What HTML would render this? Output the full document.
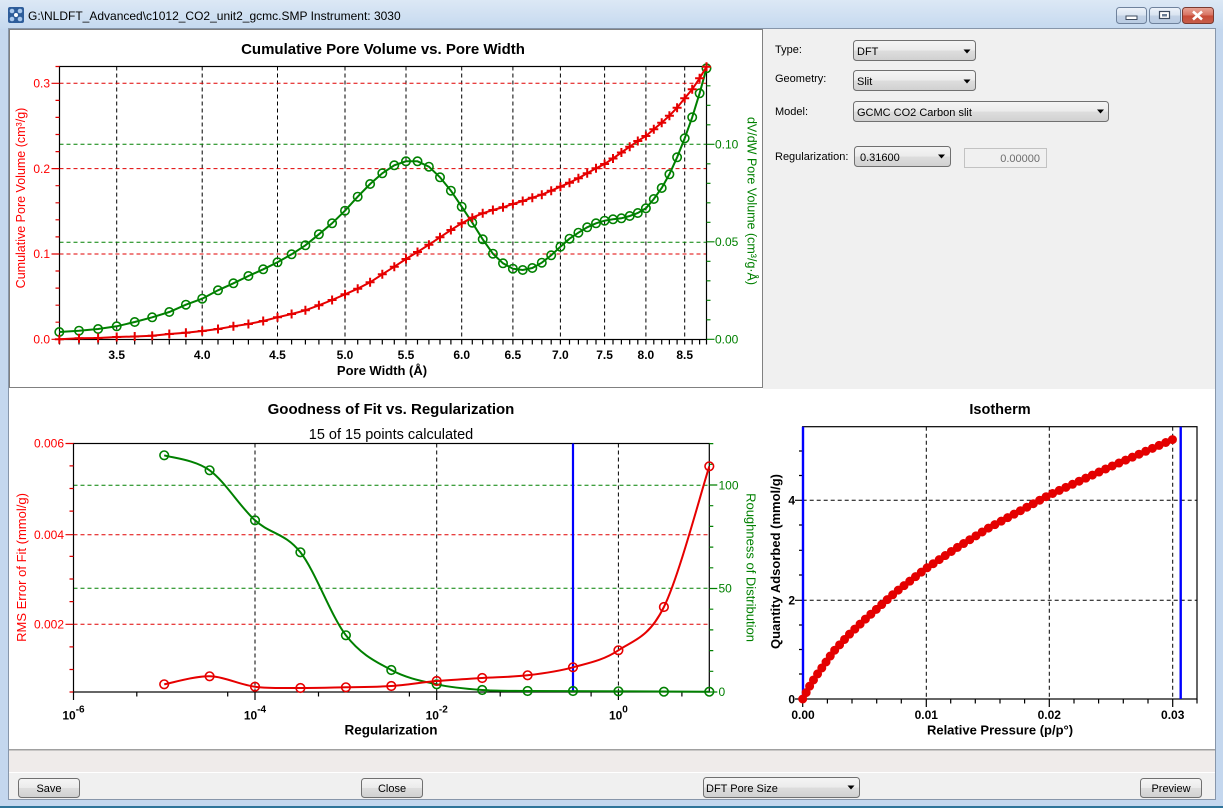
<!DOCTYPE html>
<html><head><meta charset="utf-8">
<style>
html,body{margin:0;padding:0;background:#fff;}
svg{display:block;}
text{font-family:"Liberation Sans",Arial,sans-serif;}
</style></head><body>
<svg width="1223" height="808" viewBox="0 0 1223 808" xmlns="http://www.w3.org/2000/svg">
<defs>
 <linearGradient id="tb" x1="0" y1="0" x2="0" y2="1"><stop offset="0" stop-color="#dce8f5"/><stop offset="1" stop-color="#c5d9ef"/></linearGradient>
 <linearGradient id="btn" x1="0" y1="0" x2="0" y2="1"><stop offset="0" stop-color="#f5f5f5"/><stop offset="0.5" stop-color="#ebebeb"/><stop offset="0.5" stop-color="#dedede"/><stop offset="1" stop-color="#d0d0d0"/></linearGradient>
 <linearGradient id="wb" x1="0" y1="0" x2="0" y2="1"><stop offset="0" stop-color="#eef3fa"/><stop offset="0.5" stop-color="#d8e3f0"/><stop offset="0.5" stop-color="#c3d2e5"/><stop offset="1" stop-color="#b9cbe2"/></linearGradient>
 <linearGradient id="wc" x1="0" y1="0" x2="0" y2="1"><stop offset="0" stop-color="#e8a597"/><stop offset="0.5" stop-color="#d7705f"/><stop offset="0.5" stop-color="#c84a36"/><stop offset="1" stop-color="#c65f4c"/></linearGradient>
 <marker id="mp" markerWidth="12" markerHeight="12" refX="6" refY="6" markerUnits="userSpaceOnUse" overflow="visible"><path d="M1.5 6H10.5M6 1.5V10.5" stroke="#e60000" stroke-width="2" fill="none"/></marker>
 <marker id="mc" markerWidth="12" markerHeight="12" refX="6" refY="6" markerUnits="userSpaceOnUse" overflow="visible"><circle cx="6" cy="6" r="4.2" fill="none" stroke="#008000" stroke-width="1.6"/></marker>
</defs>

<!-- window frame -->
<rect x="0" y="0" width="1223" height="808" fill="#c4d7ee"/>
<rect x="0" y="0" width="1223" height="29" fill="url(#tb)"/>
<rect x="0" y="806" width="1223" height="2" fill="#2f7499"/>
<!-- icon -->
<g transform="translate(8,7)">
 <rect x="0" y="0" width="16" height="16" rx="2" fill="#2e5d9a"/>
 <circle cx="4" cy="4" r="2.3" fill="#a9c8ec"/><circle cx="12" cy="4" r="2.3" fill="#a9c8ec"/>
 <circle cx="4" cy="12" r="2.3" fill="#a9c8ec"/><circle cx="12" cy="12" r="2.3" fill="#a9c8ec"/>
 <circle cx="8" cy="8" r="2" fill="#ffffff"/>
</g>
<text x="28" y="20" font-size="12" fill="#000">G:\NLDFT_Advanced\c1012_CO2_unit2_gcmc.SMP Instrument: 3030</text>
<!-- title buttons -->
<rect x="1116.5" y="7.5" width="30" height="16" rx="3" fill="url(#wb)" stroke="#6f829c"/>
<rect x="1126" y="16" width="11" height="3.5" fill="#fff" stroke="#3c4a5e" stroke-width="1"/>
<rect x="1149.5" y="7.5" width="31" height="16" rx="3" fill="url(#wb)" stroke="#6f829c"/>
<rect x="1159.5" y="11.5" width="10" height="7" fill="#fff" stroke="#3c4a5e" stroke-width="1.2"/>
<rect x="1162" y="14" width="5" height="2.5" fill="#6a7c94"/>
<rect x="1182.5" y="7.5" width="31" height="16" rx="3" fill="url(#wc)" stroke="#7a3a30"/>
<path d="M1193 11.5L1202 19.5M1202 11.5L1193 19.5" stroke="#fff" stroke-width="2.6"/>

<!-- content -->
<rect x="8.5" y="28.5" width="1207" height="771" fill="#f0f0f0" stroke="#8796aa"/>
<rect x="9" y="29" width="1206" height="720" fill="#fff"/>
<rect x="763" y="29" width="452" height="360" fill="#f0f0f0"/>
<rect x="9.5" y="29.5" width="753" height="358" fill="none" stroke="#000" stroke-dasharray="1,1"/>
<rect x="9" y="749" width="1206" height="1.5" fill="#a0a0a0"/>
<rect x="9" y="750.5" width="1206" height="21.5" fill="#efebea"/>
<rect x="9" y="772" width="1206" height="1" fill="#fff"/>
<rect x="9" y="773" width="1206" height="26" fill="#f0f0f0"/>

<!-- ===== TOP CHART ===== -->
<text x="383" y="54" font-size="15" font-weight="bold" text-anchor="middle">Cumulative Pore Volume vs. Pore Width</text>
<!-- grid -->
<g stroke="#000" stroke-width="1" stroke-dasharray="4,3" fill="none">
 <path d="M116.7 66.5V339.5M202.2 66.5V339.5M277.5 66.5V339.5M345 66.5V339.5M406 66.5V339.5M461.7 66.5V339.5M512.9 66.5V339.5M560.4 66.5V339.5M604.6 66.5V339.5M645.9 66.5V339.5M684.7 66.5V339.5"/>
</g>
<g stroke="#e00000" stroke-width="1" stroke-dasharray="4,3" fill="none">
 <path d="M59.5 254H706.5M59.5 168.6H706.5M59.5 83.3H706.5"/>
</g>
<g stroke="#008000" stroke-width="1" stroke-dasharray="4,3" fill="none">
 <path d="M59.5 242.3H706.5M59.5 144.3H706.5"/>
</g>
<!-- axes -->
<rect x="59.5" y="66.5" width="647" height="273" fill="none" stroke="#000" stroke-width="1.2"/>
<path stroke="#e00000" stroke-width="1.2" d="M51.5 339.3H59.5M51.5 254H59.5M51.5 168.6H59.5M51.5 83.3H59.5M55.5 322.2H59.5M55.5 305.2H59.5M55.5 288.1H59.5M55.5 271H59.5M55.5 236.9H59.5M55.5 219.8H59.5M55.5 202.8H59.5M55.5 185.7H59.5M55.5 151.6H59.5M55.5 134.5H59.5M55.5 117.4H59.5M55.5 100.4H59.5M55.5 66.5H59.5"/>
<path stroke="#008000" stroke-width="1.2" d="M706.5 339.3H714.5M706.5 241.8H714.5M706.5 144.3H714.5M706.5 319.8H710.5M706.5 300.3H710.5M706.5 280.8H710.5M706.5 261.3H710.5M706.5 222.3H710.5M706.5 202.8H710.5M706.5 183.3H710.5M706.5 163.8H710.5M706.5 124.8H710.5M706.5 105.3H710.5M706.5 85.8H710.5M706.5 66.5H710.5"/>
<path stroke="#000" stroke-width="1.2" d="M59.5 339.5v5M79 339.5v5M98.1 339.5v5M116.7 339.5v5M134.7 339.5v5M152.2 339.5v5M169.3 339.5v5M185.9 339.5v5M202.2 339.5v5M218 339.5v5M233.4 339.5v5M248.4 339.5v5M263.2 339.5v5M277.5 339.5v5M291.6 339.5v5M305.4 339.5v5M318.9 339.5v5M332.1 339.5v5M345 339.5v5M357.7 339.5v5M370.1 339.5v5M382.3 339.5v5M394.3 339.5v5M406 339.5v5M417.5 339.5v5M428.9 339.5v5M440 339.5v5M450.9 339.5v5M461.7 339.5v5M472.3 339.5v5M482.7 339.5v5M492.9 339.5v5M503 339.5v5M512.9 339.5v5M522.7 339.5v5M532.3 339.5v5M541.8 339.5v5M551.2 339.5v5M560.4 339.5v5M569.5 339.5v5M578.4 339.5v5M587.2 339.5v5M596 339.5v5M604.6 339.5v5M613 339.5v5M621.4 339.5v5M629.7 339.5v5M637.8 339.5v5M645.9 339.5v5M653.8 339.5v5M661.7 339.5v5M669.4 339.5v5M677.1 339.5v5M684.7 339.5v5M692.2 339.5v5M699.6 339.5v5M706.5 339.5v5"/>
<!-- tick labels -->
<g font-size="12" fill="#ff0000" text-anchor="end">
 <text x="50" y="343.5">0.0</text><text x="50" y="258.2">0.1</text><text x="50" y="172.8">0.2</text><text x="50" y="87.5">0.3</text>
</g>
<g font-size="12" fill="#008000">
 <text x="715" y="343.5">0.00</text><text x="715" y="246">0.05</text><text x="715" y="148.5">0.10</text>
</g>
<g font-size="12" font-weight="bold" text-anchor="middle" fill="#000">
 <text x="116.7" y="359">3.5</text><text x="202.2" y="359">4.0</text><text x="277.5" y="359">4.5</text><text x="345" y="359">5.0</text><text x="406" y="359">5.5</text><text x="461.7" y="359">6.0</text><text x="512.9" y="359">6.5</text><text x="560.4" y="359">7.0</text><text x="604.6" y="359">7.5</text><text x="645.9" y="359">8.0</text><text x="684.7" y="359">8.5</text>
</g>
<text x="382" y="375" font-size="13" font-weight="bold" text-anchor="middle">Pore Width (Å)</text>
<text transform="translate(21,198) rotate(-90)" font-size="12.5" fill="#ff0000" text-anchor="middle" dominant-baseline="central">Cumulative Pore Volume (cm³/g)</text>
<text transform="translate(751.5,201) rotate(90)" font-size="12.5" fill="#008000" text-anchor="middle" dominant-baseline="central">dV/dW Pore Volume (cm³/g·Å)</text>
<!-- series -->
<polyline fill="none" stroke="#008000" stroke-width="2" marker-start="url(#mc)" marker-mid="url(#mc)" marker-end="url(#mc)" points="59.3,332 79,330.7 98.1,329 116.7,326.3 134.7,322 152.2,317.3 169.3,312 185.9,304.7 202.2,298.7 218,290.3 233.4,283.3 248.4,276 263.2,269.3 277.5,262.3 291.6,254.3 305.4,245.3 318.9,234.3 332.1,223.3 345,210.7 357.7,196.7 370.1,184 382.3,173.3 394.3,165.3 406,161.3 417.5,161.3 428.9,166.7 440,177.3 450.9,190.7 461.7,206.7 472.3,222.7 482.7,239.3 492.9,253.7 503,263.3 512.9,268.7 522.7,270 532.3,268 541.8,262.7 551.2,255.3 560.4,246.7 569.5,238.7 578.4,232.7 587.2,227.3 596,223.3 604.6,220.7 613,219.3 621.4,218.3 629.7,216 637.8,213 645.9,208.3 653.8,199 661.7,188 669.4,174.3 677.1,157.3 684.7,138.3 692.2,117.3 699.6,93.3 706.5,68.3"/>
<polyline fill="none" stroke="#e60000" stroke-width="2" marker-start="url(#mp)" marker-mid="url(#mp)" marker-end="url(#mp)" points="59.3,339.3 79,338.3 98.1,338 116.7,337 134.7,336.5 152.2,335.7 169.3,334 185.9,332.7 202.2,331 218,329 233.4,326.3 248.4,324 263.2,321 277.5,317.3 291.6,314 305.4,310.3 318.9,305.3 332.1,300 345,294.3 357.7,288.7 370.1,282.3 382.3,274.3 394.3,266.7 406,259 417.5,252 428.9,244.7 440,237.3 450.9,230 461.7,223.3 472.3,217.7 482.7,213.3 492.9,210 503,207.3 512.9,204 522.7,201 532.3,197.7 541.8,194.7 551.2,190.7 560.4,186.7 569.5,182.7 578.4,178.3 587.2,173.3 596,168.3 604.6,164 613,158.5 621.4,152.5 629.7,146.7 637.8,141 645.9,136 653.8,129.3 661.7,122.7 669.4,115.7 677.1,107.7 684.7,98.3 692.2,89.3 699.6,78.3 706.5,66.7"/>

<!-- ===== RIGHT PANEL ===== -->
<g font-size="11" fill="#000">
 <text x="775" y="53">Type:</text>
 <text x="775" y="82">Geometry:</text>
 <text x="775" y="115">Model:</text>
 <text x="775" y="160">Regularization:</text>
</g>
<rect x="853.5" y="40.5" width="122" height="20" rx="3" fill="url(#btn)" stroke="#707070"/>
<text x="857" y="55" font-size="11">DFT</text>
<path d="M963.5 49.5h7l-3.5 4z" fill="#000"/>
<rect x="853.5" y="70.5" width="122" height="20" rx="3" fill="url(#btn)" stroke="#707070"/>
<text x="857" y="85" font-size="11">Slit</text>
<path d="M963.5 79.5h7l-3.5 4z" fill="#000"/>
<rect x="853.5" y="101.5" width="255" height="20" rx="3" fill="url(#btn)" stroke="#707070"/>
<text x="857" y="116" font-size="11">GCMC CO2 Carbon slit</text>
<path d="M1097 109.5h7l-3.5 4z" fill="#000"/>
<rect x="854.5" y="146.5" width="96" height="20" rx="3" fill="url(#btn)" stroke="#707070"/>
<text x="860" y="161" font-size="11">0.31600</text>
<path d="M938 154.5h7l-3.5 4z" fill="#000"/>
<rect x="964.5" y="148.5" width="82" height="19" fill="#f0f0f0" stroke="#c2c2c2"/>
<text x="1040" y="162" font-size="11" fill="#6d6d6d" text-anchor="end">0.00000</text>

<!-- ===== GOODNESS OF FIT CHART ===== -->
<text x="391" y="414" font-size="15" font-weight="bold" text-anchor="middle">Goodness of Fit vs. Regularization</text>
<text x="391" y="439" font-size="14.5" text-anchor="middle">15 of 15 points calculated</text>
<g stroke="#000" stroke-width="1" stroke-dasharray="4,3" fill="none">
 <path d="M255 443.5V692M436.7 443.5V692M618.4 443.5V692"/>
</g>
<g stroke="#e00000" stroke-width="1" stroke-dasharray="4,3"><path d="M73.5 534.7H709.3M73.5 624.3H709.3"/></g>
<g stroke="#008000" stroke-width="1" stroke-dasharray="4,3"><path d="M73.5 485.3H709.3M73.5 588.3H709.3"/></g>
<rect x="73.5" y="443.5" width="635.8" height="248.5" fill="none" stroke="#000" stroke-width="1.2"/>
<path stroke="#e00000" stroke-width="1.2" d="M65.5 443.5H73.5M65.5 534.7H73.5M65.5 624.3H73.5M69.5 465.9H73.5M69.5 488.5H73.5M69.5 511.1H73.5M69.5 556.4H73.5M69.5 579H73.5M69.5 601.6H73.5M69.5 646.9H73.5M69.5 669.5H73.5M69.5 692H73.5"/>
<path stroke="#008000" stroke-width="1.2" d="M709.3 692H717.3M709.3 588.5H717.3M709.3 485H717.3M709.3 671.3H713.3M709.3 650.6H713.3M709.3 629.9H713.3M709.3 609.2H713.3M709.3 567.8H713.3M709.3 547.1H713.3M709.3 526.4H713.3M709.3 505.7H713.3M709.3 464.3H713.3M709.3 443.6H713.3"/>
<path stroke="#000" stroke-width="1.2" d="M73.5 692v8M255 692v8M436.7 692v8M618.4 692v8M136.8 692v4.5M227.7 692v4.5M318.5 692v4.5M409.4 692v4.5M500.2 692v4.5M591.1 692v4.5M681.9 692v4.5"/>
<g font-size="12" fill="#ff0000" text-anchor="end">
 <text x="64" y="447.5">0.006</text><text x="64" y="538.9">0.004</text><text x="64" y="628.5">0.002</text>
</g>
<g font-size="12" fill="#008000">
 <text x="718.5" y="489.3">100</text><text x="718.5" y="592.6">50</text><text x="718.5" y="696.2">0</text>
</g>
<g font-size="12" font-weight="bold" text-anchor="middle">
 <text x="73.5" y="719.5">10<tspan dy="-7" font-size="10">-6</tspan></text>
 <text x="255" y="719.5">10<tspan dy="-7" font-size="10">-4</tspan></text>
 <text x="436.7" y="719.5">10<tspan dy="-7" font-size="10">-2</tspan></text>
 <text x="618.4" y="719.5">10<tspan dy="-7" font-size="10">0</tspan></text>
</g>
<text x="391" y="734.5" font-size="13.5" font-weight="bold" text-anchor="middle">Regularization</text>
<text transform="translate(21.5,567.5) rotate(-90)" font-size="13" fill="#ff0000" text-anchor="middle" dominant-baseline="central">RMS Error of Fit (mmol/g)</text>
<text transform="translate(751,567.5) rotate(90)" font-size="13" fill="#008000" text-anchor="middle" dominant-baseline="central">Roughness of Distribution</text>
<line x1="573" y1="443.5" x2="573" y2="692" stroke="#0000ff" stroke-width="2.2"/>
<path fill="none" stroke="#008000" stroke-width="2" d="M164.2,455.3 C171.8,457.8 194.5,459.5 209.6,470.3 C224.7,481.1 239.9,506.6 255,520.3 C270.1,534 285.3,533.1 300.4,552.3 C315.5,571.5 330.8,615.7 345.9,635.3 C361,654.9 376.2,661.8 391.3,670 C406.4,678.2 421.6,681 436.7,684.3 C451.8,687.6 467.1,688.9 482.2,690 C497.3,691.1 512.5,690.8 527.6,691 L709.3,691.7"/>
<g fill="none" stroke="#008000" stroke-width="1.6">
 <circle cx="164.2" cy="455.3" r="4.3"/><circle cx="209.6" cy="470.3" r="4.3"/><circle cx="255" cy="520.3" r="4.3"/><circle cx="300.4" cy="552.3" r="4.3"/><circle cx="345.9" cy="635.3" r="4.3"/><circle cx="391.3" cy="670" r="4.3"/><circle cx="436.7" cy="684.3" r="4.3"/><circle cx="482.2" cy="690" r="4.3"/><circle cx="527.6" cy="691" r="4.3"/><circle cx="573" cy="691" r="4.3"/><circle cx="618.4" cy="691.3" r="4.3"/><circle cx="663.9" cy="691.7" r="4.3"/><circle cx="709.3" cy="691.7" r="4.3"/>
</g>
<path fill="none" stroke="#e60000" stroke-width="2" d="M164.2,684.3 C171.8,683 194.5,675.9 209.6,676.3 C224.7,676.7 239.9,684.8 255,686.7 C270.1,688.7 285.3,687.9 300.4,688 C315.5,688.1 330.8,687.6 345.9,687.3 C361,687 376.2,687.1 391.3,686 C406.4,685 421.6,682.3 436.7,681 C451.8,679.7 467.1,679 482.2,678 C497.3,677.1 512.5,677.1 527.6,675.3 C542.7,673.5 557.9,671.5 573,667.3 C588.1,663.1 603.3,660.4 618.4,650.3 C633.5,640.3 648.8,637.7 663.9,607 C679,576.3 701.7,489.8 709.3,466.3"/>
<g fill="none" stroke="#e60000" stroke-width="1.6">
 <circle cx="164.2" cy="684.3" r="4.3"/><circle cx="209.6" cy="676.3" r="4.3"/><circle cx="255" cy="686.7" r="4.3"/><circle cx="300.4" cy="688" r="4.3"/><circle cx="345.9" cy="687.3" r="4.3"/><circle cx="391.3" cy="686" r="4.3"/><circle cx="436.7" cy="681" r="4.3"/><circle cx="482.2" cy="678" r="4.3"/><circle cx="527.6" cy="675.3" r="4.3"/><circle cx="573" cy="667.3" r="4.3"/><circle cx="618.4" cy="650.3" r="4.3"/><circle cx="663.9" cy="607" r="4.3"/><circle cx="709.3" cy="466.3" r="4.3"/>
</g>

<!-- ===== ISOTHERM ===== -->
<text x="1000" y="414" font-size="14.5" font-weight="bold" text-anchor="middle">Isotherm</text>
<g stroke="#000" stroke-width="1" stroke-dasharray="4,3" fill="none">
 <path d="M926.3 426.7V699M1049.3 426.7V699M1172.7 426.7V699M802.7 600.3H1197M802.7 500.3H1197"/>
</g>
<rect x="802.7" y="426.7" width="394.3" height="272.3" fill="none" stroke="#000" stroke-width="1.2"/>
<path stroke="#000" stroke-width="1.2" d="M795 699H802.7M795 600.3H802.7M795 500.3H802.7M799 674H802.7M799 649.5H802.7M799 625H802.7M799 575H802.7M799 550.3H802.7M799 525H802.7M799 475.5H802.7M799 451H802.7M802.7 699v8M926.3 699v8M1049.3 699v8M1172.7 699v8M827.4 699v4.5M852 699v4.5M876.7 699v4.5M901.3 699v4.5M950.7 699v4.5M975.3 699v4.5M1000 699v4.5M1024.6 699v4.5M1074 699v4.5M1098.6 699v4.5M1123.3 699v4.5M1148 699v4.5M1197 699v4.5"/>
<g font-size="12" font-weight="bold" text-anchor="end">
 <text x="795" y="703.3">0</text><text x="795" y="604.5">2</text><text x="795" y="504.5">4</text>
</g>
<g font-size="12" font-weight="bold" text-anchor="middle">
 <text x="803" y="719">0.00</text><text x="926.3" y="719">0.01</text><text x="1049.3" y="719">0.02</text><text x="1172.7" y="719">0.03</text>
</g>
<text x="1000" y="734.5" font-size="13" font-weight="bold" text-anchor="middle">Relative Pressure (p/p°)</text>
<text transform="translate(775.5,561.5) rotate(-90)" font-size="13" font-weight="bold" text-anchor="middle" dominant-baseline="central">Quantity Adsorbed (mmol/g)</text>
<line x1="803" y1="426.7" x2="803" y2="699" stroke="#0000ff" stroke-width="2.4"/>
<line x1="1180.7" y1="426.7" x2="1180.7" y2="699" stroke="#0000ff" stroke-width="2.4"/>
<path fill="none" stroke="#e40000" stroke-width="9" stroke-linecap="round" stroke-dasharray="0 7.3" d="M802.7,699 L809.4,686.5 L815,677.5 L833.5,651.5 L848.9,634.7 L864.4,620 L895.2,592.5 L926,568.5 L956.8,547.8 L987.7,528.5 L1049.3,495 L1111,466.5 L1172.6,439.5"/>

<!-- ===== BOTTOM BUTTONS ===== -->
<rect x="18.5" y="778.5" width="61" height="19" rx="3" fill="url(#btn)" stroke="#707070"/>
<text x="49" y="792" font-size="11" text-anchor="middle">Save</text>
<rect x="361.5" y="778.5" width="61" height="19" rx="3" fill="url(#btn)" stroke="#707070"/>
<text x="392" y="792" font-size="11" text-anchor="middle">Close</text>
<rect x="703.5" y="777.5" width="156" height="20" rx="3" fill="url(#btn)" stroke="#707070"/>
<text x="706" y="792" font-size="11">DFT Pore Size</text>
<path d="M847.5 785.5h7l-3.5 4z" fill="#000"/>
<rect x="1140.5" y="778.5" width="61" height="19" rx="3" fill="url(#btn)" stroke="#707070"/>
<text x="1171" y="792" font-size="11" text-anchor="middle">Preview</text>
</svg>
</body></html>
